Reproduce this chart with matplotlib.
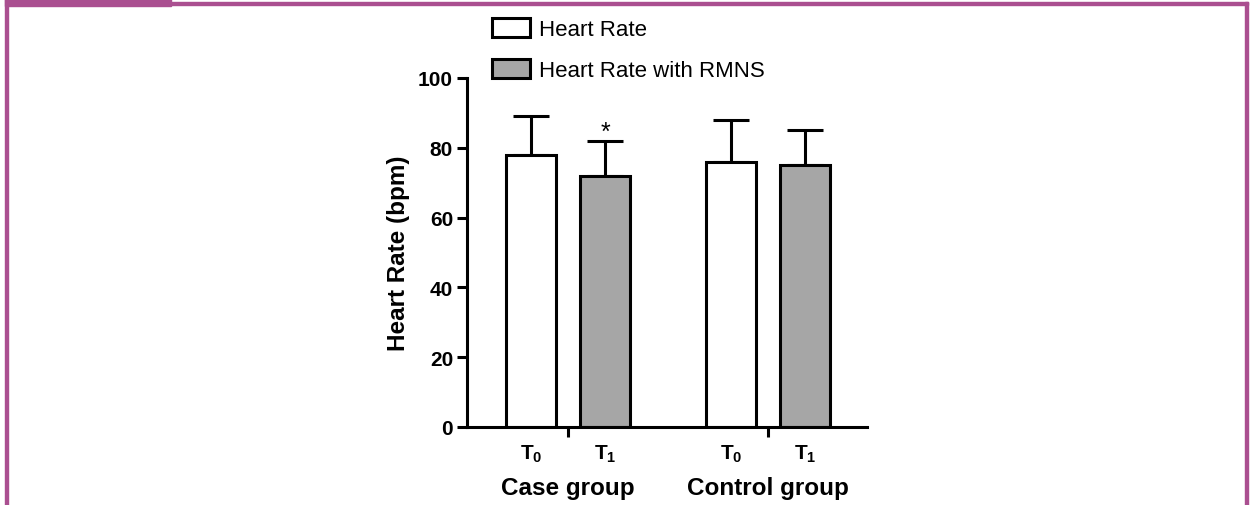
import numpy as np
import matplotlib.pyplot as plt
from matplotlib.patches import Rectangle, Patch

plt.rcParams['font.family'] = ['Liberation Sans', 'DejaVu Sans']
plt.rcParams['mathtext.fontset'] = 'custom'
plt.rcParams['mathtext.rm'] = 'Liberation Sans'
plt.rcParams['mathtext.bf'] = 'Liberation Sans:bold'

groups = ['Case group', 'Control group']
series = ['Heart Rate', 'Heart Rate with RMNS']
time_labels = [r'$\mathbf{T_0}$', r'$\mathbf{T_1}$']
means = [[78, 76], [72, 75]]   # [series][group]
sds = [[11, 12], [10, 10]]
colors = ['white', '#a6a6a6']
signif = [['', ''], ['*', '']]

fig = plt.figure(figsize=(12.54, 5.06), dpi=100)
ax = fig.add_axes([467/1254, 1-428/506, 400/1254, 349/506])

group_pos = np.array([0.0, 4.0])
offsets = [0.0, 1.48]
lw = 2.2
for s in range(2):
    xs = group_pos + offsets[s]
    ax.bar(xs, means[s], width=1.0, color=colors[s], edgecolor='black',
           linewidth=lw, label=series[s], zorder=2)
    ax.errorbar(xs, means[s], yerr=[np.zeros(2), sds[s]], fmt='none',
                ecolor='black', elinewidth=lw, capsize=13, capthick=lw, zorder=1)
    for i in range(2):
        if signif[s][i]:
            ax.text(xs[i], means[s][i] + sds[s][i] + 2.5, signif[s][i],
                    ha='center', va='center', fontsize=18)

ax.set_xlim(-1.28, 6.72)
ax.set_ylim(0, 100)
ax.set_yticks([0, 20, 40, 60, 80, 100])
for sp in ['top', 'right']:
    ax.spines[sp].set_visible(False)
ax.spines['left'].set_linewidth(lw)
ax.spines['bottom'].set_linewidth(lw)
ax.tick_params(axis='y', width=lw, length=7, labelsize=15, pad=3)
for t in ax.get_yticklabels():
    t.set_fontweight('bold')

centers = group_pos + offsets[1] / 2
ax.set_xticks(centers)
ax.set_xticklabels(['', ''])
ax.tick_params(axis='x', which='major', width=lw, length=7, direction='out')
bar_x = np.concatenate([group_pos + o for o in offsets])
ax.set_xticks(bar_x, minor=True)
ax.set_xticklabels([time_labels[0], time_labels[0], time_labels[1], time_labels[1]], minor=True)
ax.tick_params(axis='x', which='minor', length=0, labelsize=15, pad=11)
for c, g in zip(centers, groups):
    ax.text(c, -0.172, g, transform=ax.get_xaxis_transform(), ha='center', va='center',
            fontsize=17.5, fontweight='bold')

ax.set_ylabel('Heart Rate (bpm)', fontsize=17.5, fontweight='bold', labelpad=6)

handles = [Patch(facecolor=colors[s], edgecolor='black', linewidth=lw) for s in range(2)]
fig.legend(handles, series, loc='upper left', bbox_to_anchor=(492/1254, 1-19/506),
           frameon=False, fontsize=16, handlelength=1.7, handleheight=0.92,
           labelspacing=0.85, handletextpad=0.42, borderpad=0, borderaxespad=0)

purple = '#aa4f90'
fig.add_artist(Rectangle((5/1254, 0), 3/1254, 1, transform=fig.transFigure, color=purple))
fig.add_artist(Rectangle((5/1254, 1-7/506), 166/1254, 7/506, transform=fig.transFigure, color=purple))
fig.add_artist(Rectangle((171/1254, 1-6.3/506), 1077/1254, 3/506, transform=fig.transFigure, color=purple))
fig.add_artist(Rectangle((1245/1254, 0), 3/1254, 1-3.3/506, transform=fig.transFigure, color=purple))

fig.savefig('out.png', dpi=100)
